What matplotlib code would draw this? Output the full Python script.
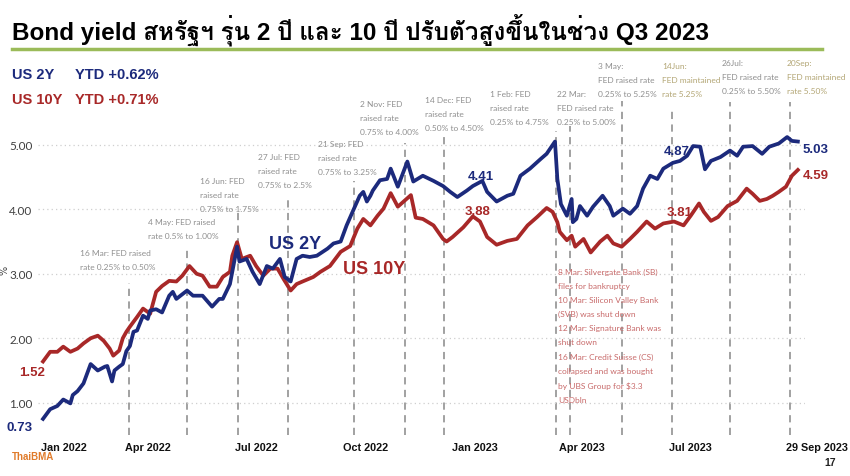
import pandas as pd
import matplotlib
matplotlib.use("Agg")
import matplotlib.pyplot as plt
from matplotlib import font_manager
from matplotlib.lines import Line2D
from matplotlib.transforms import ScaledTranslation

# ─── DATA ─────────────────────────────────────────────────────────────────────

us2y_dates = [
    "2022-01-03", "2022-01-09", "2022-01-15", "2022-01-20", "2022-01-26", "2022-01-28",
    "2022-02-01", "2022-02-06", "2022-02-12", "2022-02-18", "2022-02-24", "2022-02-26",
    "2022-03-02", "2022-03-04", "2022-03-06", "2022-03-08", "2022-03-11", "2022-03-14",
    "2022-03-17", "2022-03-20", "2022-03-23", "2022-03-28", "2022-04-01", "2022-04-03",
    "2022-04-08", "2022-04-13", "2022-04-19", "2022-04-22", "2022-04-25", "2022-05-04",
    "2022-05-09", "2022-05-17", "2022-05-25", "2022-05-31", "2022-06-03", "2022-06-09",
    "2022-06-15", "2022-06-17", "2022-06-23", "2022-06-28", "2022-07-04", "2022-07-10",
    "2022-07-15", "2022-07-21", "2022-07-25", "2022-07-30", "2022-08-04", "2022-08-09",
    "2022-08-15", "2022-08-21", "2022-08-30", "2022-09-04", "2022-09-10", "2022-09-15",
    "2022-09-20", "2022-09-26", "2022-09-29", "2022-10-02", "2022-10-05", "2022-10-07",
    "2022-10-13", "2022-10-19", "2022-10-22", "2022-10-28", "2022-11-05", "2022-11-10",
    "2022-11-18", "2022-11-27", "2022-12-05", "2022-12-11", "2022-12-17", "2022-12-25",
    "2022-12-30", "2023-01-07", "2023-01-11", "2023-01-19", "2023-01-28", "2023-02-02",
    "2023-02-08", "2023-02-16", "2023-02-25", "2023-03-02", "2023-03-09", "2023-03-11",
    "2023-03-14", "2023-03-19", "2023-03-23", "2023-03-24", "2023-03-27", "2023-03-30",
    "2023-04-05", "2023-04-10", "2023-04-18", "2023-04-24", "2023-04-27", "2023-05-05",
    "2023-05-11", "2023-05-17", "2023-05-22", "2023-05-28", "2023-06-03", "2023-06-08",
    "2023-06-16", "2023-06-22", "2023-06-28", "2023-07-03", "2023-07-09", "2023-07-13",
    "2023-07-18", "2023-07-26", "2023-08-03", "2023-08-09", "2023-08-14", "2023-08-22",
    "2023-08-30", "2023-09-05", "2023-09-13", "2023-09-20", "2023-09-24", "2023-09-29",
]
us2y_vals = [
    0.75, 0.90, 0.95, 1.05, 0.99, 1.12,
    1.18, 1.30, 1.60, 1.50, 1.56, 1.57,
    1.33, 1.50, 1.53, 1.56, 1.60, 1.80,
    1.88, 2.10, 2.12, 2.35, 2.30, 2.43,
    2.45, 2.40, 2.66, 2.72, 2.61, 2.74,
    2.66, 2.66, 2.49, 2.61, 2.61, 2.84,
    3.42, 3.19, 3.23, 3.03, 2.84, 3.12,
    3.08, 3.23, 2.95, 2.88, 3.23, 3.28,
    3.26, 3.28, 3.39, 3.47, 3.50, 3.75,
    3.96, 4.21, 4.27, 4.12, 4.21, 4.29,
    4.45, 4.47, 4.63, 4.35, 4.74, 4.43,
    4.52, 4.44, 4.36, 4.27, 4.19, 4.29,
    4.36, 4.44, 4.27, 4.12, 4.21, 4.24,
    4.52, 4.63, 4.78, 4.86, 5.05, 4.47,
    4.08, 3.90, 4.16, 3.80, 3.85, 4.05,
    3.90, 4.04, 4.21, 4.05, 3.90, 4.01,
    3.93, 4.05, 4.32, 4.52, 4.47, 4.63,
    4.72, 4.75, 4.83, 4.98, 4.97, 4.62,
    4.75, 4.81, 4.91, 4.83, 4.97, 4.98,
    4.86, 4.97, 5.02, 5.12, 5.06, 5.05,
]

us10y_dates = [
    "2022-01-03", "2022-01-09", "2022-01-15", "2022-01-20", "2022-01-26", "2022-02-01",
    "2022-02-06", "2022-02-12", "2022-02-18", "2022-02-23", "2022-02-28", "2022-03-03",
    "2022-03-08", "2022-03-11", "2022-03-14", "2022-03-17", "2022-03-23", "2022-03-28",
    "2022-04-03", "2022-04-08", "2022-04-13", "2022-04-19", "2022-04-25", "2022-04-30",
    "2022-05-06", "2022-05-12", "2022-05-17", "2022-05-23", "2022-05-29", "2022-06-03",
    "2022-06-09", "2022-06-11", "2022-06-15", "2022-06-19", "2022-06-26", "2022-07-01",
    "2022-07-07", "2022-07-13", "2022-07-19", "2022-07-24", "2022-07-30", "2022-08-04",
    "2022-08-09", "2022-08-18", "2022-08-24", "2022-09-01", "2022-09-10", "2022-09-18",
    "2022-09-24", "2022-09-29", "2022-10-05", "2022-10-11", "2022-10-16", "2022-10-22",
    "2022-10-28", "2022-11-08", "2022-11-12", "2022-11-18", "2022-11-27", "2022-12-05",
    "2022-12-08", "2022-12-13", "2022-12-22", "2022-12-30", "2023-01-05", "2023-01-11",
    "2023-01-19", "2023-01-28", "2023-02-05", "2023-02-14", "2023-02-22", "2023-03-02",
    "2023-03-07", "2023-03-11", "2023-03-13", "2023-03-19", "2023-03-23", "2023-03-26",
    "2023-04-02", "2023-04-08", "2023-04-16", "2023-04-22", "2023-04-27", "2023-05-04",
    "2023-05-11", "2023-05-17", "2023-05-25", "2023-06-01", "2023-06-08", "2023-06-17",
    "2023-06-25", "2023-07-01", "2023-07-08", "2023-07-12", "2023-07-18", "2023-07-24",
    "2023-08-01", "2023-08-09", "2023-08-17", "2023-08-22", "2023-08-28", "2023-09-03",
    "2023-09-08", "2023-09-13", "2023-09-19", "2023-09-24", "2023-09-29",
]
us10y_vals = [
    1.64, 1.79, 1.79, 1.87, 1.79, 1.84,
    1.92, 2.00, 2.04, 1.96, 1.84, 1.73,
    1.81, 2.00, 2.10, 2.18, 2.33, 2.46,
    2.38, 2.72, 2.81, 2.89, 2.88, 2.97,
    3.12, 3.00, 2.97, 2.80, 2.80, 2.95,
    3.03, 3.28, 3.49, 3.23, 3.28, 3.12,
    2.97, 3.08, 3.08, 2.92, 2.74, 2.84,
    2.88, 2.95, 3.03, 3.12, 3.34, 3.43,
    3.70, 3.85, 3.75, 3.90, 4.01, 4.25,
    4.04, 4.22, 3.87, 3.85, 3.75, 3.54,
    3.50, 3.57, 3.72, 3.89, 3.81, 3.57,
    3.45, 3.51, 3.54, 3.75, 3.88, 4.02,
    3.96, 3.80, 3.65, 3.52, 3.59, 3.42,
    3.54, 3.33, 3.50, 3.59, 3.47, 3.42,
    3.54, 3.65, 3.81, 3.70, 3.78, 3.81,
    3.75, 3.90, 4.09, 3.96, 3.82, 3.88,
    4.05, 4.13, 4.32, 4.24, 4.13, 4.16,
    4.21, 4.27, 4.35, 4.52, 4.61,
]

# FED / banking events: where the dashed line sits, and how high it reaches
event_dates = ["2022-03-16", "2022-05-04", "2022-06-16", "2022-07-28", "2022-09-21",
               "2022-11-03", "2022-12-06", "2023-03-10", "2023-03-22", "2023-05-04",
               "2023-06-15", "2023-08-03", "2023-09-22"]
event_tops = [2.85, 3.39, 3.96, 4.16, 4.44, 5.02, 5.14, 5.22, 5.29, 5.68, 5.59, 5.67, 5.67]

tick_dates = ["2022-01-01", "2022-04-01", "2022-07-01", "2022-10-01",
              "2023-01-01", "2023-04-01", "2023-07-01", "2023-09-29"]
tick_labels = ["Jan 2022", "Apr 2022", "Jul 2022", "Oct 2022",
               "Jan 2023", "Apr 2023", "Jul 2023", "29 Sep 2023"]
y_ticks = [1, 2, 3, 4, 5]

# annotation text: (left px, top px, text, colour key)
notes = [
    (80, 250, "16 Mar: FED raised\nrate 0.25% to 0.50%", "g"),
    (148, 219, "4 May: FED raised\nrate 0.5% to 1.00%", "g"),
    (200, 178, "16 Jun: FED\nraised rate\n0.75% to 1.75%", "g"),
    (258, 154, "27 Jul: FED\nraised rate\n0.75% to 2.5%", "g"),
    (318, 141, "21 Sep: FED\nraised rate\n0.75% to 3.25%", "g"),
    (360, 101, "2 Nov: FED\nraised rate\n0.75% to 4.00%", "g"),
    (425, 97, "14 Dec: FED\nraised rate\n0.50% to 4.50%", "g"),
    (490, 91, "1 Feb: FED\nraised rate\n0.25% to 4.75%", "g"),
    (557, 91, "22 Mar:\nFED raised rate\n0.25% to 5.00%", "g"),
    (598, 63, "3 May:\nFED raised rate\n0.25% to 5.25%", "g"),
    (662, 63, "14Jun:\nFED maintained\nrate 5.25%", "o"),
    (722, 60, "26Jul:\nFED raised rate\n0.25% to 5.50%", "g"),
    (787, 60, "20Sep:\nFED maintained\nrate 5.50%", "o"),
    (558, 269, "8 Mar: Silvergate Bank (SB)\nfiles for bankruptcy\n"
               "10 Mar: Silicon Valley Bank\n(SVB) was shut down\n"
               "12 Mar: Signature Bank was\nshut down\n"
               "16 Mar: Credit Suisse (CS)\ncollapsed and was bought\n"
               "by UBS Group for $3.3\nUSDbln", "r"),
]

# ─── STYLE ────────────────────────────────────────────────────────────────────

NAVY = "#1c2a7c"
RED = "#a82828"
GREY_TXT = "#8f8f8f"
OLIVE = "#b3a675"
ROSE = "#c86a6a"
note_colors = {"g": GREY_TXT, "o": OLIVE, "r": ROSE}


def thai_family():
    # look for any installed font that actually carries Thai glyphs
    from fontTools.ttLib import TTFont
    for f in font_manager.fontManager.ttflist:
        try:
            cmap = TTFont(f.fname, fontNumber=0, lazy=True).getBestCmap()
        except Exception:
            continue
        if cmap and 0x0E2A in cmap and 0x0E39 in cmap:
            return f.name
    return None


thai = thai_family()
title_fam = ["Liberation Sans"] + ([thai] if thai else []) + ["DejaVu Sans"]
BOLD = ["Liberation Sans", "DejaVu Sans"]
LIGHT = ["Lato", "DejaVu Sans"]

W, H = 850, 477
fig = plt.figure(figsize=(W / 100, H / 100), dpi=100)
fig.patch.set_facecolor("white")


def px(x, y):
    return x / W, 1 - y / H


# axes: 38..805 px across, 60..436 px down
ax = fig.add_axes([38 / W, (H - 436) / H, (805 - 38) / W, (436 - 60) / H])
ax.set_ylim(0.5, 6.33)
ax.set_xlim(pd.Timestamp("2021-12-29 19:00"), pd.Timestamp("2023-10-05"))
for s in ax.spines.values():
    s.set_visible(False)

d2 = pd.to_datetime(us2y_dates)
d10 = pd.to_datetime(us10y_dates)

ax.set_yticks(y_ticks)
ax.set_yticklabels([f"{v:.2f}" for v in y_ticks], fontsize=8.5, color="#404040", family=LIGHT)
ax.yaxis.grid(True, linestyle=(0, (1, 2.5)), color="#cfcfcf", linewidth=0.9)
ax.tick_params(axis="both", length=0)
ax.tick_params(axis="y", pad=4)
ax.tick_params(axis="x", pad=5)

ax.set_xticks(pd.to_datetime(tick_dates))
ax.set_xticklabels(tick_labels, fontsize=7.8, fontweight="bold", family=BOLD, color="#111111")
xt = ax.get_xticklabels()
xt[0].set_ha("left")
xt[-1].set_transform(xt[-1].get_transform() + ScaledTranslation(0.19, 0, fig.dpi_scale_trans))

# event lines
for d, top in zip(pd.to_datetime(event_dates), event_tops):
    ax.plot([d, d], [0.5, top], color="#9a9a9a", lw=1.3, ls=(0, (4, 3)), zorder=1,
            clip_on=False)

ax.plot(d10, us10y_vals, color=RED, lw=2.7, zorder=3, solid_joinstyle="round")
ax.plot(d2, us2y_vals, color=NAVY, lw=2.7, zorder=4, solid_joinstyle="round")

# ─── TEXT ─────────────────────────────────────────────────────────────────────

fig.text(*px(12, 30), "Bond yield สหรัฐฯ รุ่น 2 ปี และ 10 ปี ปรับตัวสูงขึ้นในช่วง Q3 2023",
         fontsize=17.5, fontweight="bold", family=title_fam, va="center", ha="left")
fig.add_artist(Line2D([12 / W, 822 / W], [1 - 50 / H] * 2, color="#9bbb59", lw=2.5))

fig.text(*px(12, 75), "US 2Y", color=NAVY, fontsize=10.5, fontweight="bold", family=BOLD, va="center")
fig.text(*px(75, 75), "YTD +0.62%", color=NAVY, fontsize=10.5, fontweight="bold", family=BOLD, va="center")
fig.text(*px(12, 100), "US 10Y", color=RED, fontsize=10.5, fontweight="bold", family=BOLD, va="center")
fig.text(*px(75, 100), "YTD +0.71%", color=RED, fontsize=10.5, fontweight="bold", family=BOLD, va="center")

fig.text(*px(4, 270), "%", rotation=90, fontsize=7, color="#404040", va="center", ha="center")

for x, y, t, c in notes:
    fig.text(*px(x, y), t, fontsize=6.0, color=note_colors[c], family=LIGHT,
             va="top", ha="left", linespacing=2.17)

# value labels
vlab = [
    (20, 428, "0.73", NAVY), (32, 373, "1.52", RED),
    (816, 150, "5.03", NAVY), (816, 176, "4.59", RED),
    (481, 177, "4.41", NAVY), (478, 212, "3.88", RED),
    (677, 152, "4.87", NAVY), (680, 213, "3.81", RED),
]
for x, y, t, c in vlab:
    fig.text(*px(x, y), t, color=c, fontsize=9.5, fontweight="bold", family=BOLD,
             ha="center", va="center")

fig.text(*px(295, 245), "US 2Y", color=NAVY, fontsize=13, fontweight="bold", family=BOLD,
         ha="center", va="center")
fig.text(*px(374, 270), "US 10Y", color=RED, fontsize=13, fontweight="bold", family=BOLD,
         ha="center", va="center")

# footer
fig.text(*px(12, 457), "ThaiBMA", color="#e07b2a", fontsize=7, fontweight="bold",
         family=BOLD, va="center")
fig.text(*px(830, 463), "17", color="#222222", fontsize=7.5, fontweight="bold",
         family=BOLD, va="center", ha="center")

fig.savefig("out.png", dpi=100)
